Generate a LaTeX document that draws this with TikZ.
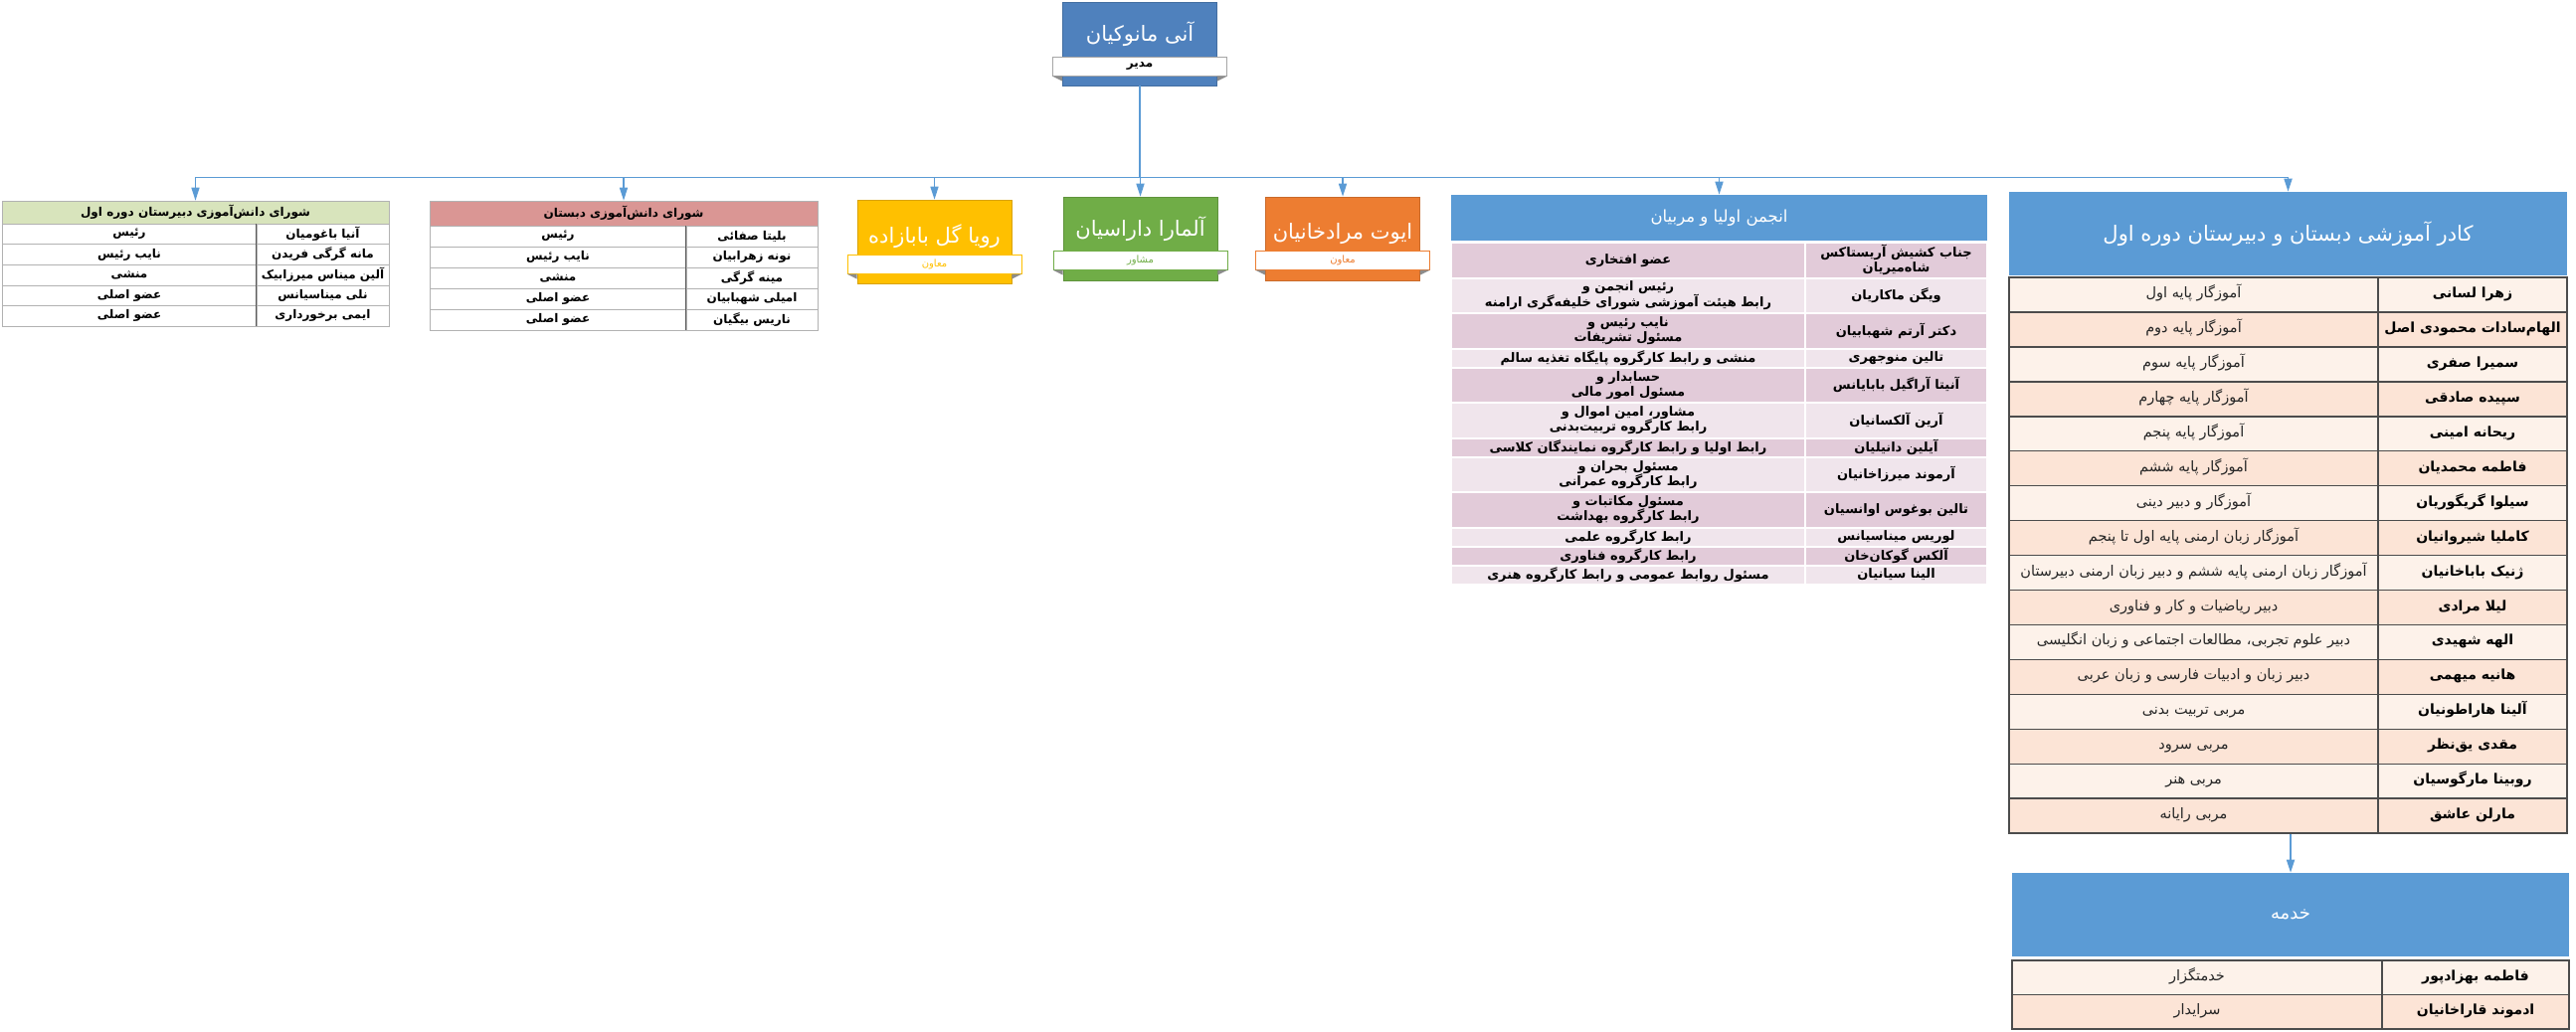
\documentclass[tikz,border=0pt]{standalone}
\usepackage{fontspec}
\usetikzlibrary{arrows.meta}
\TeXXeTstate=1
\newfontfamily\farsi[Script=Arabic]{DejaVu Sans}
\newcommand{\fa}[1]{{\farsi\beginR #1\endR}}
\definecolor{linkblue}{HTML}{5B9BD5}
\definecolor{mgrblue}{HTML}{4F81BD}
\definecolor{headblue}{HTML}{5B9BD5}
\definecolor{boxyellow}{HTML}{FFC000}
\definecolor{boxgreen}{HTML}{70AD47}
\definecolor{boxorange}{HTML}{ED7D31}
\definecolor{councilgreen}{HTML}{D8E4BC}
\definecolor{councilpink}{HTML}{DA9694}
\definecolor{parentdark}{HTML}{E2CBD9}
\definecolor{parentlight}{HTML}{F0E5EC}
\definecolor{staffdark}{HTML}{FCE4D6}
\definecolor{stafflight}{HTML}{FDF2EA}
\tikzset{>={Triangle[length=13pt,width=8pt]}}
\tikzset{
  link/.style={draw=linkblue, line width=1.6pt},
  personbox/.style={fill=#1, draw=#1!85!black, line width=0.6pt, minimum width=155pt, minimum height=84pt, inner sep=0pt},
  personname/.style={text=white, font=\fontsize{21}{25}\selectfont, inner sep=0pt},
  ribbon/.style={fill=white, draw=#1, text=#1, line width=0.8pt, minimum width=175pt, minimum height=19pt, inner sep=0pt, font=\fontsize{10}{12}\selectfont},
  headbox/.style={fill=#1, draw=black!30, line width=0.6pt, inner sep=0pt},
  cell/.style={inner sep=0pt, align=center},
  staffcell/.style={inner sep=0pt, draw=black!70, line width=1.5pt, text height=11pt, text depth=5pt},
}

\begin{document}
\begin{tikzpicture}[x=1pt,y=-1pt]
\useasboundingbox (0,0) rectangle (2590,1037);

% manager and the three deputies
\node[personbox=mgrblue] (mgr) at (1146,44) {};
\node[personname] (mgr-name) at ([yshift=-33pt]mgr.north) {\fa{آنی مانوکیان}};
\node[ribbon=black!35, text=black, font=\bfseries\fontsize{12}{14}\selectfont] (mgr-band) at ([yshift=-65pt]mgr.north) {\fa{مدیر}};

\node[personbox=boxyellow] (yellow) at (939.5,243) {};
\node[personname] (yellow-name) at ([yshift=-37pt]yellow.north) {\fa{رویا گل بابازاده}};
\node[ribbon=boxyellow] (yellow-band) at ([yshift=-65pt]yellow.north) {\fa{معاون}};

\node[personbox=boxgreen] (green) at (1146.5,240) {};
\node[personname] (green-name) at ([yshift=-32pt]green.north) {\fa{آلمارا داراسیان}};
\node[ribbon=boxgreen] (green-band) at ([yshift=-64pt]green.north) {\fa{مشاور}};

\node[personbox=boxorange] (orange) at (1350,240) {};
\node[personname] (orange-name) at ([yshift=-37pt]orange.north) {\fa{ایوت مرادخانیان}};
\node[ribbon=boxorange] (orange-band) at ([yshift=-64pt]orange.north) {\fa{معاون}};

\foreach \b in {mgr,yellow,green,orange} {
  \fill[black!45] (\b-band.south west) -- ++(10,0) -- ++(0,5) -- cycle;
  \fill[black!45] (\b-band.south east) -- ++(-10,0) -- ++(0,5) -- cycle;
}

% student council, high school
\node[headbox=councilgreen, minimum width=389pt, minimum height=23pt, font=\bfseries\fontsize{12}{14}\selectfont] (lcouncil) at (196.5,213.5) {\fa{شورای دانش‌آموزی دبیرستان دوره اول}};
\foreach \nm/\rl [count=\i] in {آنیا باغومیان/رئیس, مانه گرگی فریدن/نایب رئیس, آلین میناس میرزابیک/منشی, نلی میناسیانس/عضو اصلی, ایمی برخورداری/عضو اصلی} {
  \node[cell, draw=black!30, minimum width=133pt, minimum height=20.6pt, font=\bfseries\fontsize{12}{14}\selectfont] (l\i n) at (324.5,{225+(\i-0.5)*20.6}) {\fa{\nm}};
  \node[cell, draw=black!30, minimum width=256pt, minimum height=20.6pt, font=\bfseries\fontsize{12}{14}\selectfont] (l\i r) at (130,{225+(\i-0.5)*20.6}) {\fa{\rl}};
}
\draw[black!65, line width=1pt] (l1n.north west) -- (l5n.south west);

% student council, primary school
\node[headbox=councilpink, minimum width=390pt, minimum height=25pt, font=\bfseries\fontsize{12}{14}\selectfont] (pcouncil) at (627,214.5) {\fa{شورای دانش‌آموزی دبستان}};
\foreach \nm/\rl [count=\i] in {بلیتا صفائی/رئیس, نونه زهرابیان/نایب رئیس, مینه گرگی/منشی, امیلی شهبابیان/عضو اصلی, ناریس بیگیان/عضو اصلی} {
  \node[cell, draw=black!30, minimum width=132pt, minimum height=21pt, font=\bfseries\fontsize{12}{14}\selectfont] (k\i n) at (756,{227+(\i-0.5)*21}) {\fa{\nm}};
  \node[cell, draw=black!30, minimum width=258pt, minimum height=21pt, font=\bfseries\fontsize{12}{14}\selectfont] (k\i r) at (561,{227+(\i-0.5)*21}) {\fa{\rl}};
}
\draw[black!65, line width=1pt] (k1n.north west) -- (k5n.south west);

% parents and teachers association
\node[headbox=headblue, draw=none, minimum width=539pt, minimum height=46pt, text=white, font=\fontsize{16.5}{19}\selectfont] (parents) at (1728.5,219) {\fa{انجمن اولیا و مربیان}};
\foreach \yc/\h/\nm/\rl [count=\i] in {
  261.75/35.5/{\fa{جناب کشیش آریستاکس}\\\fa{شاه‌میریان}}/{\fa{عضو افتخاری}},
  297.25/35.5/{\fa{ویگن ماکاریان}}/{\fa{رئیس انجمن و}\\\fa{رابط هیئت آموزشی شورای خلیفه‌گری ارامنه}},
  332.75/35.5/{\fa{دکتر آرتم شهبابیان}}/{\fa{نایب رئیس و}\\\fa{مسئول تشریفات}},
  360/19/{\fa{تالین منوجهری}}/{\fa{منشی و رابط کارگروه پایگاه تغذیه سالم}},
  387.25/35.5/{\fa{آنیتا آراگیل بابایانس}}/{\fa{حسابدار و}\\\fa{مسئول امور مالی}},
  422.75/35.5/{\fa{آرین آلکسانیان}}/{\fa{مشاور، امین اموال و}\\\fa{رابط کارگروه تربیت‌بدنی}},
  450/19/{\fa{آیلین دانیلیان}}/{\fa{رابط اولیا و رابط کارگروه نمایندگان کلاسی}},
  477.25/35.5/{\fa{آرموند میرزاخانیان}}/{\fa{مسئول بحران و}\\\fa{رابط کارگروه عمرانی}},
  512.75/35.5/{\fa{تالین بوغوس اوانسیان}}/{\fa{مسئول مکاتبات و}\\\fa{رابط کارگروه بهداشت}},
  540/19/{\fa{لوریس میناسیانس}}/{\fa{رابط کارگروه علمی}},
  559/19/{\fa{آلکس گوکان‌خان}}/{\fa{رابط کارگروه فناوری}},
  578/19/{\fa{الینا سیانیان}}/{\fa{مسئول روابط عمومی و رابط کارگروه هنری}}} {
  \ifodd\i \def\rowcol{parentdark}\else\def\rowcol{parentlight}\fi
  \node[cell, fill=\rowcol, draw=white, line width=2pt, minimum width=183pt, minimum height=\h pt, font=\bfseries\fontsize{13}{15}\selectfont] (p\i n) at (1906.5,\yc) {\nm};
  \node[cell, fill=\rowcol, draw=white, line width=2pt, minimum width=356pt, minimum height=\h pt, font=\bfseries\fontsize{13}{15}\selectfont] (p\i r) at (1637,\yc) {\rl};
}

% teaching staff
\node[headbox=headblue, draw=none, minimum width=561pt, minimum height=84pt, text=white, font=\fontsize{21}{25}\selectfont] (staff) at (2300.5,235) {\fa{کادر آموزشی دبستان و دبیرستان دوره اول}};
\foreach \nm/\rl [count=\i] in {
  زهرا لسانی/آموزگار پایه اول,
  الهام‌سادات محمودی اصل/آموزگار پایه دوم,
  سمیرا صفری/آموزگار پایه سوم,
  سپیده صادقی/آموزگار پایه چهارم,
  ریحانه امینی/آموزگار پایه پنجم,
  فاطمه محمدیان/آموزگار پایه ششم,
  سیلوا گریگوریان/آموزگار و دبیر دینی,
  کاملیا شیروانیان/آموزگار زبان ارمنی پایه اول تا پنجم,
  ژنیک باباخانیان/آموزگار زبان ارمنی پایه ششم و دبیر زبان ارمنی دبیرستان,
  لیلا مرادی/دبیر ریاضیات و کار و فناوری,
  الهه شهیدی/دبیر علوم تجربی، مطالعات اجتماعی و زبان انگلیسی,
  هانیه میهمی/دبیر زبان و ادبیات فارسی و زبان عربی,
  آلینا هاراطونیان/مربی تربیت بدنی,
  مقدی یق‌نظر/مربی سرود,
  روبینا مارگوسیان/مربی هنر,
  مارلن عاشق/مربی رایانه} {
  \ifodd\i \def\rowcol{stafflight}\else\def\rowcol{staffdark}\fi
  \node[staffcell, fill=\rowcol, minimum width=190pt, minimum height=35pt, font=\bfseries\fontsize{14}{16}\selectfont] (s\i n) at (2486,{279+(\i-0.5)*34.95}) {\fa{\nm}};
  \node[staffcell, fill=\rowcol, minimum width=371pt, minimum height=35pt, text=black!85, font=\fontsize{14.5}{17}\selectfont] (s\i r) at (2205.5,{279+(\i-0.5)*34.95}) {\fa{\rl}};
}

% service staff
\node[headbox=headblue, draw=none, minimum width=560pt, minimum height=84pt, text=white, font=\fontsize{18}{21}\selectfont] (service) at (2303,920) {\fa{خدمه}};
\foreach \nm/\rl [count=\i] in {فاطمه بهزادپور/خدمتگزار, ادموند قاراخانیان/سرایدار} {
  \ifodd\i \def\rowcol{stafflight}\else\def\rowcol{staffdark}\fi
  \node[staffcell, fill=\rowcol, minimum width=188pt, minimum height=34.5pt, font=\bfseries\fontsize{14}{16}\selectfont] (v\i n) at (2489,{966+(\i-0.5)*34.5}) {\fa{\nm}};
  \node[staffcell, fill=\rowcol, minimum width=372pt, minimum height=34.5pt, text=black!85, font=\fontsize{14.5}{17}\selectfont] (v\i r) at (2209,{966+(\i-0.5)*34.5}) {\fa{\rl}};
}

% connectors
\foreach \t in {lcouncil,pcouncil,yellow,green,orange,parents,staff}
  \draw[link,->] (mgr.south) -- ++(0,92) -| (\t.north);
\draw[link,->] (service.north |- s16r.south) -- (service.north);
\end{tikzpicture}
\end{document}
